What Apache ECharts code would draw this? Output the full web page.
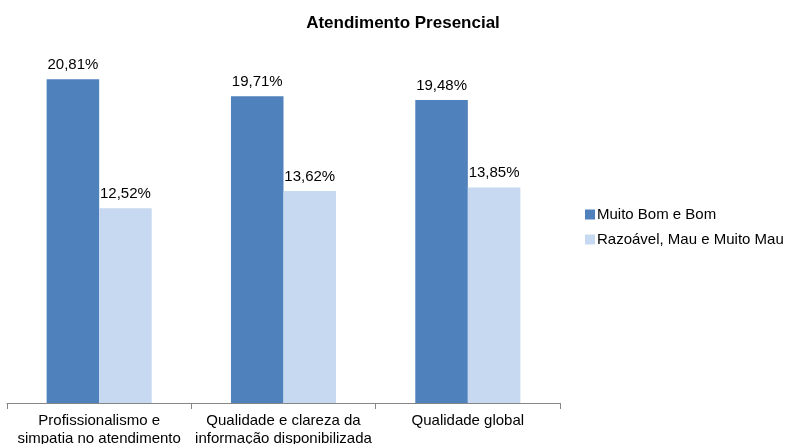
<!DOCTYPE html>
<html>
<head>
<meta charset="utf-8">
<script src="https://cdn.jsdelivr.net/npm/echarts@6/dist/echarts.min.js"></script>
<style>
  html, body { margin: 0; padding: 0; background: #fff; }
  #chart { width: 786px; height: 444px; }
</style>
</head>
<body>
<div id="chart"></div>
<script>
// Survey results for in-person service, percentage per rating group
const categories = [
  'Profissionalismo e\nsimpatia no atendimento',
  'Qualidade e clareza da\ninformação disponibilizada',
  'Qualidade global'
];
const seriesNames = ['Muito Bom e Bom', 'Razoável, Mau e Muito Mau'];
const goodValues = [20.81, 19.71, 19.48];
const badValues = [12.52, 13.62, 13.85];
const colors = ['#4F81BD', '#C6D9F1'];

const fontFamily = 'Liberation Sans, Arial, sans-serif';

const fmt = p => p.value.toFixed(2).replace('.', ',') + '%';

const chart = echarts.init(document.getElementById('chart'));
chart.setOption({
  animation: false,
  title: {
    text: 'Atendimento Presencial',
    left: 398,
    textAlign: 'center',
    top: 10,
    textStyle: { fontFamily, fontSize: 17, fontWeight: 'bold', color: '#000' }
  },
  legend: {
    orient: 'vertical',
    left: 580,
    top: 202,
    itemWidth: 10,
    itemHeight: 10,
    itemGap: 10,
    icon: 'rect',
    textStyle: { fontFamily, fontSize: 15, color: '#000', padding: [0, 0, 0, -3] },
    data: seriesNames
  },
  // plot box is fixed; the lower category lines may run past the bottom edge
  grid: { left: 7, right: 226, top: 14, bottom: 41, containLabel: false, outerBoundsMode: 'none' },
  xAxis: {
    type: 'category',
    data: categories,
    axisLine: { show: true, lineStyle: { color: '#868686', width: 1 } },
    axisTick: { show: true, length: 6, lineStyle: { color: '#868686' } },
    axisLabel: {
      fontFamily, fontSize: 15, color: '#000', lineHeight: 18, margin: 9, interval: 0
    }
  },
  yAxis: {
    type: 'value',
    min: 0,
    max: 25,
    show: false,
    splitLine: { show: false }
  },
  series: [
    {
      name: seriesNames[0],
      type: 'bar',
      data: goodValues,
      barGap: '0%',
      barCategoryGap: '43%',
      itemStyle: { color: colors[0] },
      label: { show: true, position: 'top', distance: 7, formatter: fmt,
               fontFamily, fontSize: 15, color: '#000' }
    },
    {
      name: seriesNames[1],
      type: 'bar',
      data: badValues,
      itemStyle: { color: colors[1] },
      label: { show: true, position: 'top', distance: 7, formatter: fmt,
               fontFamily, fontSize: 15, color: '#000' }
    }
  ]
});
</script>
</body>
</html>
